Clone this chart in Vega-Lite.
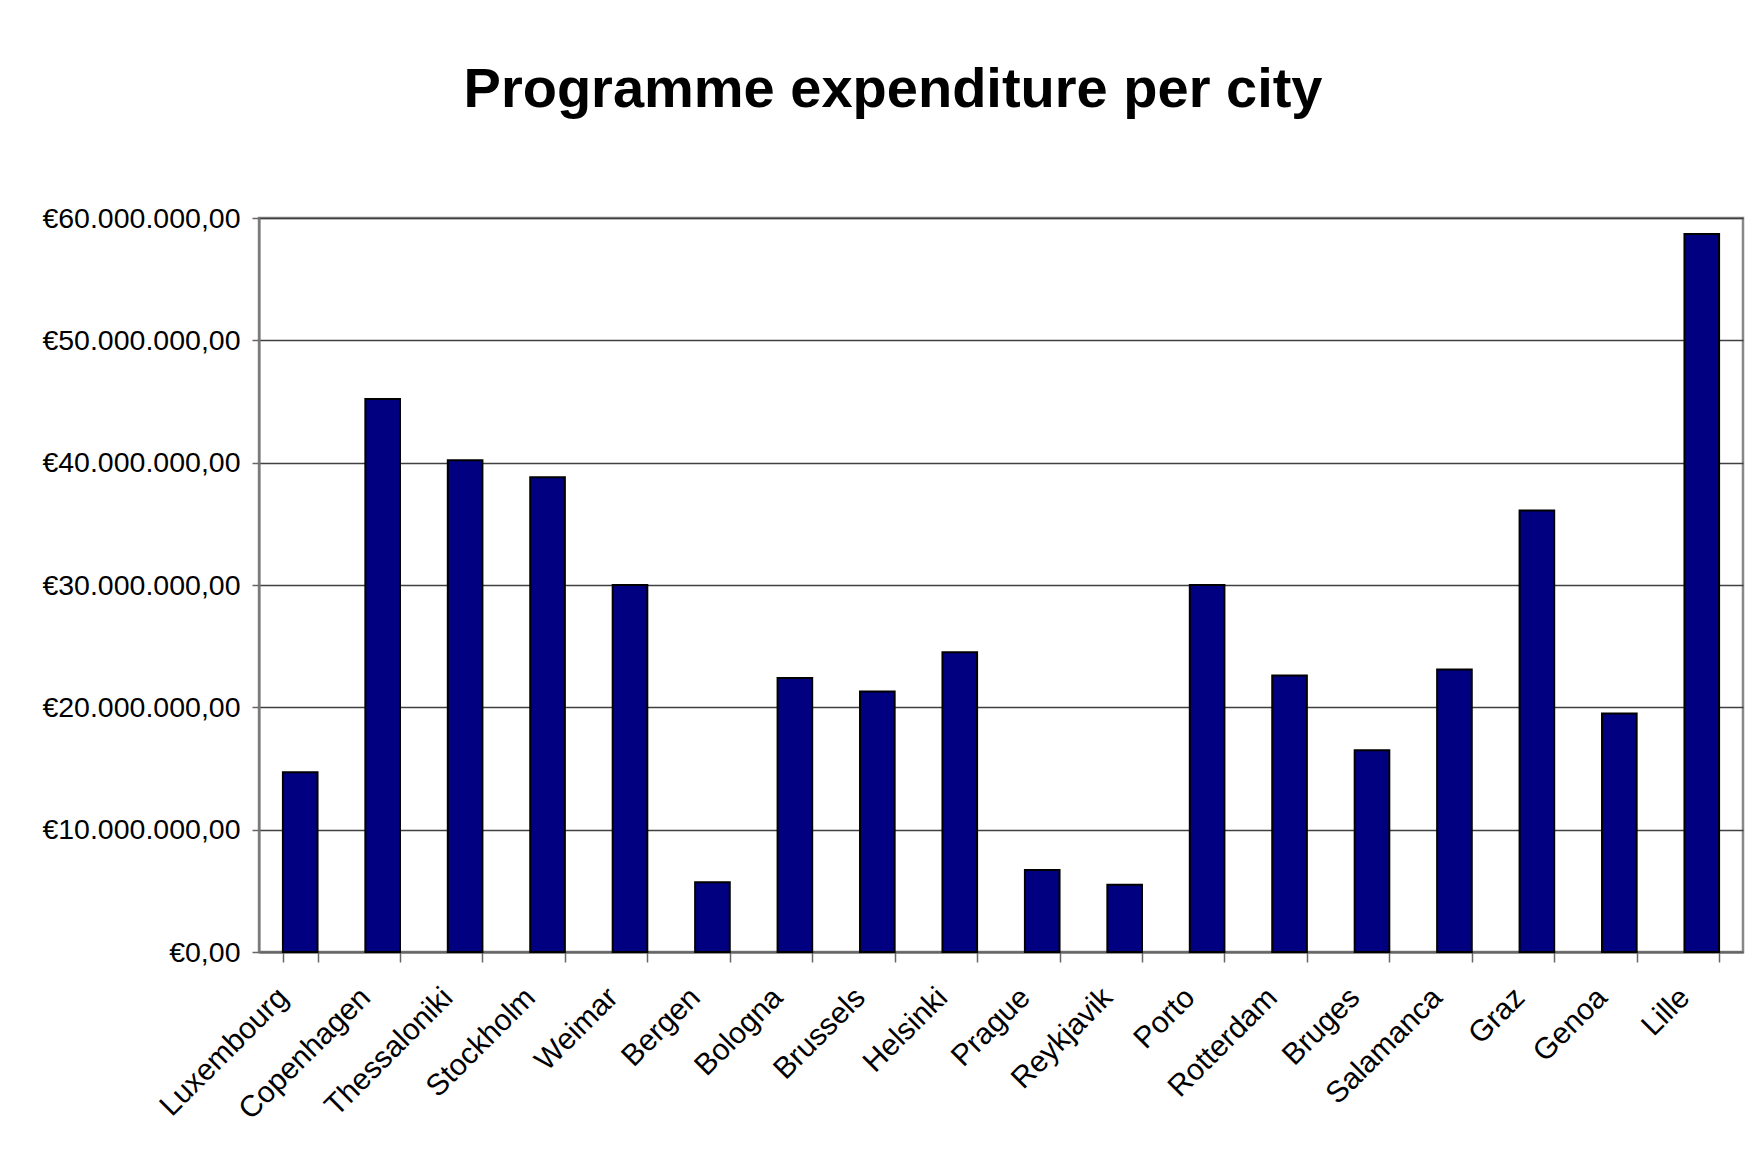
{
  "$schema": "https://vega.github.io/schema/vega-lite/v6.json",
  "autosize": {"type": "none"},
  "width": 1484,
  "height": 734,
  "padding": {"left": 259, "top": 218, "right": 9, "bottom": 205},
  "background": "#ffffff",
  "title": {
    "text": "Programme expenditure per city",
    "font": "Liberation Sans",
    "fontSize": 56,
    "fontWeight": "bold",
    "color": "#000000",
    "anchor": "middle",
    "baseline": "alphabetic",
    "dx": -108,
    "offset": 41
  },
  "data": {
    "values": [
      {"city": "Luxembourg", "expenditure": 14700000},
      {"city": "Copenhagen", "expenditure": 45200000},
      {"city": "Thessaloniki", "expenditure": 40200000},
      {"city": "Stockholm", "expenditure": 38800000},
      {"city": "Weimar", "expenditure": 30000000},
      {"city": "Bergen", "expenditure": 5700000},
      {"city": "Bologna", "expenditure": 22400000},
      {"city": "Brussels", "expenditure": 21300000},
      {"city": "Helsinki", "expenditure": 24500000},
      {"city": "Prague", "expenditure": 6700000},
      {"city": "Reykjavik", "expenditure": 5500000},
      {"city": "Porto", "expenditure": 30000000},
      {"city": "Rotterdam", "expenditure": 22600000},
      {"city": "Bruges", "expenditure": 16500000},
      {"city": "Salamanca", "expenditure": 23100000},
      {"city": "Graz", "expenditure": 36100000},
      {"city": "Genoa", "expenditure": 19500000},
      {"city": "Lille", "expenditure": 58700000}
    ]
  },
  "mark": {"type": "bar", "fill": "#000080", "stroke": "#000000", "strokeWidth": 2},
  "encoding": {
    "x": {
      "field": "city",
      "type": "nominal",
      "sort": null,
      "scale": {"paddingInner": 0.58, "paddingOuter": 0.29},
      "axis": {
        "title": null,
        "labelAngle": -45,
        "labelFont": "Liberation Sans",
        "labelFontSize": 30,
        "labelColor": "#000000",
        "labelPadding": 20,
        "labelOffset": -28,
        "labelLimit": 0,
        "tickBand": "extent",
        "tickSize": 10,
        "tickColor": "#666666",
        "tickWidth": 1.5,
        "domainColor": "#666666",
        "domainWidth": 2,
        "grid": false
      }
    },
    "y": {
      "field": "expenditure",
      "type": "quantitative",
      "scale": {"domain": [0, 60000000], "nice": false},
      "axis": {
        "title": null,
        "values": [0, 10000000, 20000000, 30000000, 40000000, 50000000, 60000000],
        "format": "$,.2f",
        "labelFont": "Liberation Sans",
        "labelFontSize": 28.5,
        "labelColor": "#000000",
        "labelPadding": 12,
        "labelLimit": 0,
        "tickSize": 7,
        "tickColor": "#666666",
        "tickWidth": 1.5,
        "domainColor": "#777777",
        "domainWidth": 2,
        "grid": true,
        "gridColor": "#404040",
        "gridWidth": 1.5
      }
    }
  },
  "config": {
    "locale": {
      "number": {"decimal": ",", "thousands": ".", "grouping": [3], "currency": ["€", ""]}
    },
    "view": {"stroke": "#888888", "strokeWidth": 2.5}
  }
}
